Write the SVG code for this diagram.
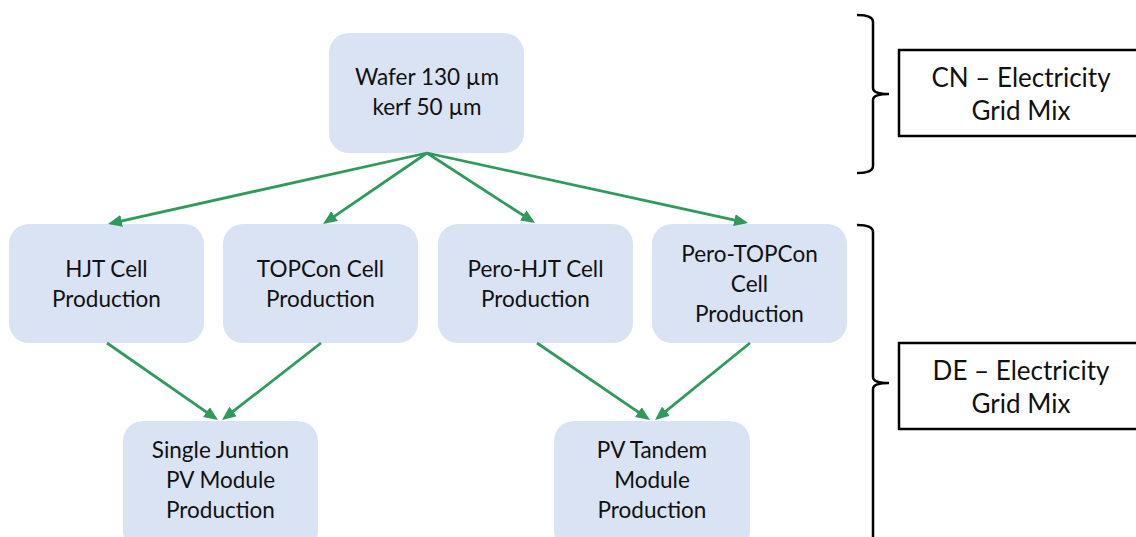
<svg xmlns="http://www.w3.org/2000/svg" width="1136" height="537" viewBox="0 0 1136 537">
  <style>
    .node rect { fill: #DAE3F3; }
    .node text, .grid text { font-family: Lato, "Liberation Sans", sans-serif; fill: #111; text-anchor: middle; }
    .node text { font-size: 22.5px; }
    .grid text { font-size: 26px; }
    .grid rect { fill: #fff; stroke: #000; stroke-width: 2.5; }
    .brace { fill: none; stroke: #000; stroke-width: 2.5; }
    .conn line { stroke: #2E9B5C; stroke-width: 2.8; marker-end: url(#arr); }
  </style>
  <defs>
    <marker id="arr" viewBox="0 0 14 12" refX="11" refY="6" markerWidth="14" markerHeight="12" markerUnits="userSpaceOnUse" orient="auto">
      <path d="M0,0 L14,6 L0,12 z" fill="#2E9B5C"/>
    </marker>
  </defs>
  <rect width="1136" height="537" fill="#fff"/>

  <g id="wafer" class="node">
    <rect x="329" y="33" width="195" height="120" rx="20"/>
    <text x="427" y="85">Wafer 130 µm</text>
    <text x="427" y="115">kerf 50 µm</text>
  </g>
  <g id="hjt" class="node">
    <rect x="9" y="224" width="195" height="119" rx="20"/>
    <text x="106.5" y="277">HJT Cell</text>
    <text x="106.5" y="307">Production</text>
  </g>
  <g id="topcon" class="node">
    <rect x="223" y="224" width="195" height="119" rx="20"/>
    <text x="320.5" y="277">TOPCon Cell</text>
    <text x="320.5" y="307">Production</text>
  </g>
  <g id="perohjt" class="node">
    <rect x="438" y="224" width="195" height="119" rx="20"/>
    <text x="535.5" y="277">Pero-HJT Cell</text>
    <text x="535.5" y="307">Production</text>
  </g>
  <g id="perotopcon" class="node">
    <rect x="652" y="224" width="195" height="119" rx="20"/>
    <text x="749.5" y="262">Pero-TOPCon</text>
    <text x="749.5" y="292">Cell</text>
    <text x="749.5" y="322">Production</text>
  </g>
  <g id="single" class="node">
    <rect x="123" y="421" width="195" height="130" rx="20"/>
    <text x="220.5" y="458">Single Juntion</text>
    <text x="220.5" y="488">PV Module</text>
    <text x="220.5" y="518">Production</text>
  </g>
  <g id="tandem" class="node">
    <rect x="554" y="421" width="196" height="130" rx="20"/>
    <text x="652" y="458">PV Tandem</text>
    <text x="652" y="488">Module</text>
    <text x="652" y="518">Production</text>
  </g>

  <g id="cn" class="grid">
    <path class="brace" d="M857,15 Q873,15 873,22 L873,88 Q873,94 889,94 Q873,94 873,100 L873,166 Q873,173 857,173"/>
    <rect x="899" y="50" width="244" height="86"/>
    <text x="1021" y="87">CN – Electricity</text>
    <text x="1021" y="120">Grid Mix</text>
  </g>
  <g id="de" class="grid">
    <path class="brace" d="M857,225 Q873,225 873,232 L873,377 Q873,383 889,383 Q873,383 873,389 L873,545"/>
    <rect x="899" y="343" width="244" height="86"/>
    <text x="1021" y="380">DE – Electricity</text>
    <text x="1021" y="413">Grid Mix</text>
  </g>

  <g id="connectors" class="conn">
    <line x1="427" y1="153" x2="110.9" y2="223.3"/>
    <line x1="427" y1="153" x2="325.5" y2="222.3"/>
    <line x1="427" y1="153" x2="532.5" y2="221.4"/>
    <line x1="427" y1="153" x2="745.1" y2="222.4"/>
    <line x1="107" y1="343" x2="215.5" y2="418.3"/>
    <line x1="321" y1="343" x2="224.4" y2="418.2"/>
    <line x1="537" y1="343" x2="647.5" y2="418.3"/>
    <line x1="750" y1="343" x2="657.3" y2="418.1"/>
  </g>
</svg>
